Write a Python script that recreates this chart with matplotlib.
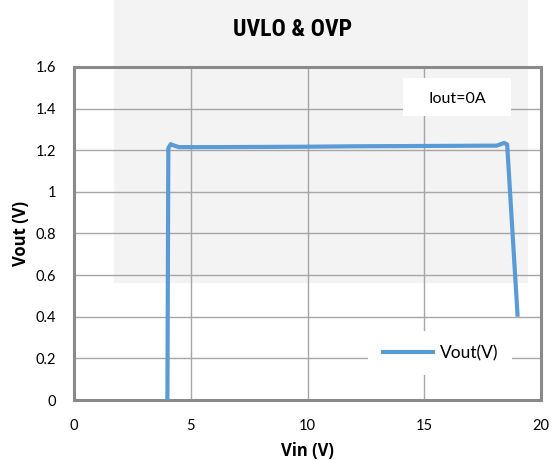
import matplotlib
matplotlib.use('Agg')
import matplotlib.pyplot as plt
from matplotlib.patches import Rectangle

# data
vin = [4.0, 4.04, 4.14, 4.3, 4.5, 6, 8, 10, 12, 14, 16, 17.5, 18.1, 18.3, 18.42, 18.55, 19.0]
vout = [0.0, 1.21, 1.229, 1.222, 1.215, 1.215, 1.216, 1.217, 1.219, 1.220, 1.221, 1.222, 1.222, 1.230, 1.235, 1.228, 0.40]

xticks = [0, 5, 10, 15, 20]
yticks = [0, 0.2, 0.4, 0.6, 0.8, 1, 1.2, 1.4, 1.6]
yticklabels = ['0', '0.2', '0.4', '0.6', '0.8', '1', '1.2', '1.4', '1.6']

line_color = '#5b9bd5'
W, H = 552, 461

fig = plt.figure(figsize=(W / 100, H / 100), dpi=100)
fig.patch.set_facecolor('white')

# faint watermark block behind the chart
fig.patches.append(Rectangle((114 / W, 1 - 283 / H), (528 - 114) / W, 283 / H,
                             transform=fig.transFigure, facecolor='#f3f3f3',
                             edgecolor='none', zorder=0))

ax = fig.add_axes([74 / W, 1 - 400 / H, (541 - 74) / W, (400 - 67) / H])
ax.set_zorder(2)
ax.patch.set_alpha(0)

ax.plot(vin, vout, color=line_color, lw=3, solid_capstyle='butt',
        solid_joinstyle='round', label='Vout(V)', zorder=3)

ax.set_xlim(0, 20)
ax.set_ylim(0, 1.6)
ax.set_xticks(xticks)
ax.set_yticks(yticks)
ax.set_yticklabels(yticklabels)
ax.grid(True, color='#a6a6a6', lw=1.0)
ax.set_axisbelow(True)
ax.tick_params(length=0, labelsize=10.5)
ax.tick_params(axis='y', pad=13)
ax.tick_params(axis='x', pad=14)
for lbl in ax.get_xticklabels() + ax.get_yticklabels():
    lbl.set_fontfamily('Lato')
for s in ax.spines.values():
    s.set_color('#8a8a8a')
    s.set_linewidth(2.2)

ax.set_xlabel('Vin (V)', fontsize=12, fontweight='bold', fontfamily='Open Sans', labelpad=6)
ax.set_ylabel('Vout (V)', fontsize=12, fontweight='bold', fontfamily='Open Sans', labelpad=4)

fig.text(293 / W, 1 - 30 / H, 'UVLO & OVP', ha='center', va='center',
         fontsize=17, fontweight='bold', family=['Roboto Condensed', 'Roboto', 'DejaVu Sans'])

# white label box for the test condition
ax.add_patch(Rectangle((403 / W, 1 - 116 / H), 108 / W, 38 / H, transform=fig.transFigure,
                       facecolor='white', edgecolor='none', zorder=4))
ax.text(457 / W, 1 - 99 / H, 'Iout=0A', transform=fig.transFigure,
        ha='center', va='center', fontsize=11.5, fontfamily='Lato', zorder=5)

leg = ax.legend(loc='lower right', bbox_to_anchor=((512 - 74) / (541 - 74), (400 - 375) / (400 - 67)),
                frameon=True, fancybox=False, handlelength=3.1, handletextpad=0.25,
                borderpad=0.8, borderaxespad=0, prop={'family': 'Lato', 'size': 12.5})
leg.get_frame().set_edgecolor('none')
leg.get_frame().set_facecolor('white')
leg.get_frame().set_alpha(1)

fig.savefig('out.png', dpi=100)
